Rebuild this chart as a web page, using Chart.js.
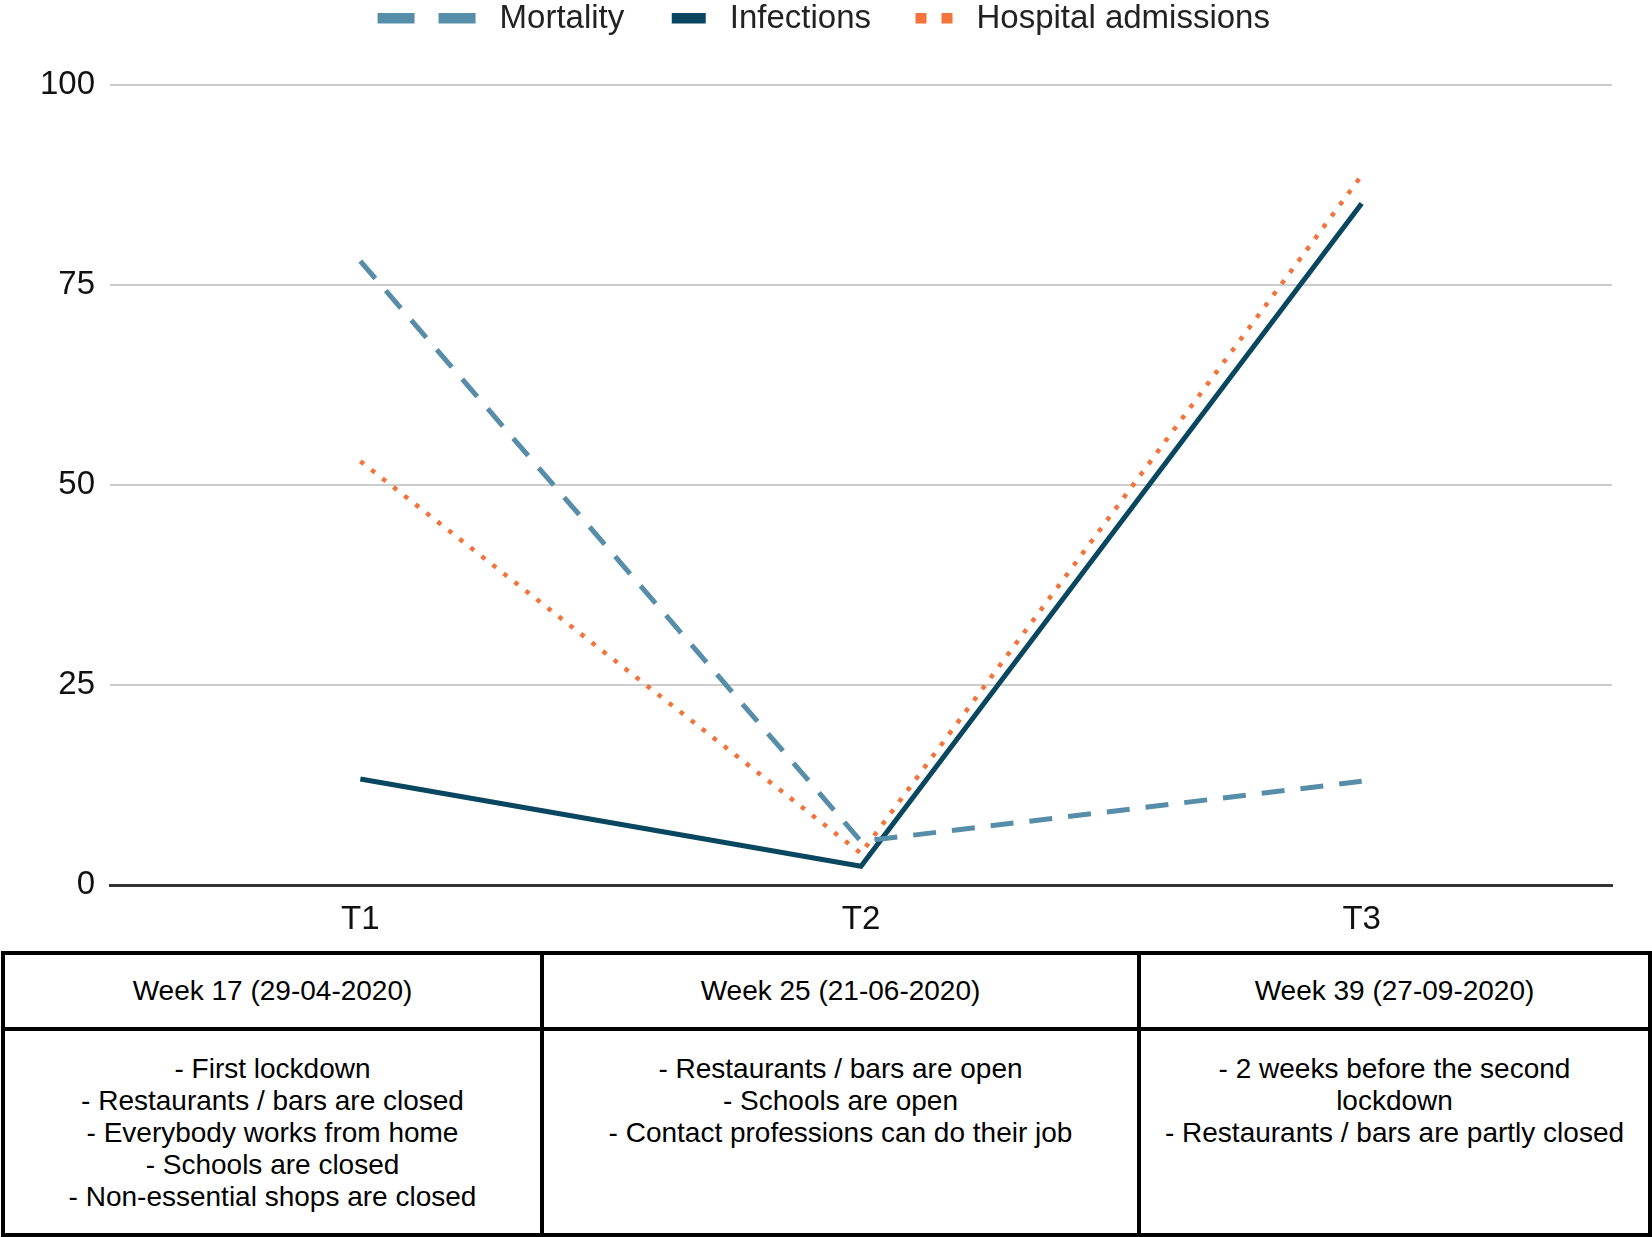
<!DOCTYPE html>
<html><head><meta charset="utf-8">
<script src="https://cdn.jsdelivr.net/npm/chart.js@4/dist/chart.umd.min.js"></script>
<style>
html,body{margin:0;padding:0;background:#fff;width:1652px;height:1237px;overflow:hidden;}
#wrap{position:absolute;left:0;top:0;width:1652px;height:955px;}
#table{position:absolute;left:0;top:0;font-family:"Liberation Sans",Arial,sans-serif;font-size:28px;color:#000;}
.b{position:absolute;background:#000;}
.cell{position:absolute;text-align:center;white-space:nowrap;line-height:32px;}
.head{display:flex;align-items:center;justify-content:center;}
</style></head>
<body>
<div id="wrap"><canvas id="c"></canvas></div>
<div id="table"></div>
<script>
// ---- data ----
const categories = ['T1', 'T2', 'T3'];
const seriesNames = ['Mortality', 'Infections', 'Hospital admissions'];
const mortality = [78, 5.5, 13];
const infections = [13.3, 2.4, 85.2];
const hospital = [53, 4, 88.7];
const yTicks = [0, 25, 50, 75, 100];
const periods = ['Week 17 (29-04-2020)', 'Week 25 (21-06-2020)', 'Week 39 (27-09-2020)'];
const measuresT1 = ['- First lockdown', '- Restaurants / bars are closed', '- Everybody works from home', '- Schools are closed', '- Non-essential shops are closed'];
const measuresT2 = ['- Restaurants / bars are open', '- Schools are open', '- Contact professions can do their job'];
const measuresT3 = ['- 2 weeks before the second', 'lockdown', '- Restaurants / bars are partly closed'];

// ---- styles ----
const colMort = '#568DA9', colInf = '#08475F', colHosp = '#F4733A';
const chartFont = '"Liberation Sans", Arial, sans-serif';

// legend sample images
function legendImg(kind, color) {
  const W = 200, H = 12, end = 136;
  const c = document.createElement('canvas'); c.width = W; c.height = H;
  const g = c.getContext('2d'); g.fillStyle = color;
  if (kind === 'dash') { g.fillRect(end - 98, 0, 37, 11); g.fillRect(end - 37, 0, 37, 11); }
  else if (kind === 'solid') { g.fillRect(end - 34, 0, 34, 11); }
  else { g.fillRect(end - 37, 0, 11, 11); g.fillRect(end - 11, 0, 11, 11); }
  return c;
}
const legendImgs = [legendImg('dash', colMort), legendImg('solid', colInf), legendImg('dot', colHosp)];

const legendTweak = {
  id: 'legendTweak',
  beforeInit(chart) {
    const lg = chart.legend;
    const of = lg.fit, od = lg.draw;
    lg.fit = function () { of.call(this); this.height = 85; };
    lg.draw = function (a) { const c = this.ctx; c.save(); c.translate(7, 0); od.call(this, a); c.restore(); };
  }
};

new Chart(document.getElementById('c'), {
  type: 'line',
  data: {
    labels: categories,
    datasets: [
      { label: seriesNames[0], data: mortality, borderColor: colMort, backgroundColor: colMort, borderWidth: 5, borderDash: [23, 16], borderCapStyle: 'butt' },
      { label: seriesNames[1], data: infections, borderColor: colInf, backgroundColor: colInf, borderWidth: 5, borderJoinStyle: 'miter' },
      { label: seriesNames[2], data: hospital, borderColor: colHosp, backgroundColor: colHosp, borderWidth: 4.5, borderDash: [4.5, 9.5], borderCapStyle: 'butt' }
    ]
  },
  options: {
    responsive: true,
    maintainAspectRatio: false,
    animation: false,
    elements: { point: { radius: 0, hoverRadius: 0 }, line: { tension: 0, fill: false } },
    layout: { padding: { left: 40, right: 40, top: 0, bottom: 0 } },
    plugins: {
      tooltip: { enabled: false },
      legend: {
        display: true,
        position: 'top',
        labels: {
          usePointStyle: true,
          pointStyleWidth: 87,
          padding: 2,
          color: '#222',
          font: { family: chartFont, size: 33 },
          generateLabels(chart) {
            return chart.data.datasets.map((ds, i) => ({
              text: ds.label, pointStyle: legendImgs[i], fillStyle: ds.borderColor,
              strokeStyle: ds.borderColor, lineWidth: 0, fontColor: '#222', hidden: false, datasetIndex: i
            }));
          }
        }
      }
    },
    scales: {
      x: {
        offset: true,
        grid: { display: false, drawTicks: false },
        border: { display: true, color: '#333', width: 3 },
        ticks: { color: '#111', font: { family: chartFont, size: 33 }, padding: 15 }
      },
      y: {
        min: 0, max: 100,
        afterBuildTicks(s) { s.ticks = yTicks.map(v => ({ value: v })); },
        afterFit(s) { s.width = 70; },
        grid: { color: '#cccccc', lineWidth: 2, drawTicks: false },
        border: { display: false },
        ticks: { color: '#111', font: { family: chartFont, size: 33 }, padding: 15 }
      }
    }
  },
  plugins: [legendTweak]
});

// ---- table below chart ----
const T = document.getElementById('table');
function box(l, t, w, h) { const d = document.createElement('div'); d.className = 'b'; Object.assign(d.style, { left: l + 'px', top: t + 'px', width: w + 'px', height: h + 'px' }); T.appendChild(d); }
box(1, 951, 1651, 4); box(1, 1233, 1651, 4); box(1, 1027, 1651, 4);
box(1, 951, 4, 286); box(1648, 951, 4, 286); box(540, 951, 4, 286); box(1137, 951, 4, 286);
const cols = [[5, 535], [544, 593], [1141, 507]];
const measures = [measuresT1, measuresT2, measuresT3];
cols.forEach(([l, w], i) => {
  const h = document.createElement('div'); h.className = 'cell head';
  Object.assign(h.style, { left: l + 'px', top: '955px', width: w + 'px', height: '72px' });
  h.textContent = periods[i]; T.appendChild(h);
  const b = document.createElement('div'); b.className = 'cell';
  Object.assign(b.style, { left: l + 'px', top: '1053px', width: w + 'px' });
  measures[i].forEach(line => { const d = document.createElement('div'); d.textContent = line; b.appendChild(d); });
  T.appendChild(b);
});
</script>
</body></html>
